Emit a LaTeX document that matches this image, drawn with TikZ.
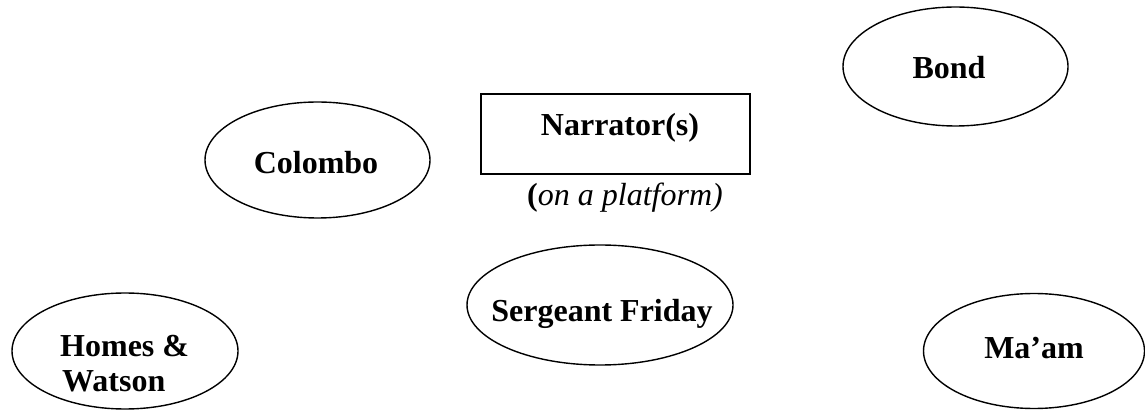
\documentclass[tikz,border=0pt]{standalone}
\usepackage{fontspec}
\setmainfont{Liberation Serif}
\usetikzlibrary{shapes.geometric}
\begin{document}
\begin{tikzpicture}[x=1pt,y=-1pt,
  ell/.style={draw, ellipse, line width=1.4pt, inner sep=0pt},
  box/.style={draw, rectangle, line width=1.4pt, inner sep=0pt},
  lbl/.style={inner sep=0pt, anchor=base, font=\fontsize{32}{35}\selectfont\bfseries},
  lblw/.style={lbl, anchor=base west}]
\useasboundingbox (0,0) rectangle (1145,411);
% shapes
\node[ell, minimum width=225pt, minimum height=119pt] (bond) at (955.5,66.5) {};
\node[box, minimum width=269pt, minimum height=80pt] (narr) at (615.5,134) {};
\node[ell, minimum width=225pt, minimum height=116pt] (colombo) at (317.5,160) {};
\node[ell, minimum width=266pt, minimum height=120pt] (friday) at (600,305) {};
\node[ell, minimum width=226pt, minimum height=116pt] (homes) at (125,351) {};
\node[ell, minimum width=221pt, minimum height=115pt] (maam) at (1034,351) {};
% texts
\node[lbl] (tbond) at (949,79) {Bond};
\node[lbl] (tnarr) at (620,136) {Narrator(s)};
\node[lbl] (tplat) at (625,206) {(\textmd{\itshape on a platform)}};
\node[lbl] (tcolombo) at (316,174) {Colombo};
\node[lbl] (tfriday) at (602,322) {Sergeant Friday};
\node[lblw] (thomes1) at (60,356) {Homes \&};
\node[lblw] (thomes2) at (62,391) {Watson};
\node[lbl] (tmaam) at (1034,359) {Ma’am};
\end{tikzpicture}
\end{document}
